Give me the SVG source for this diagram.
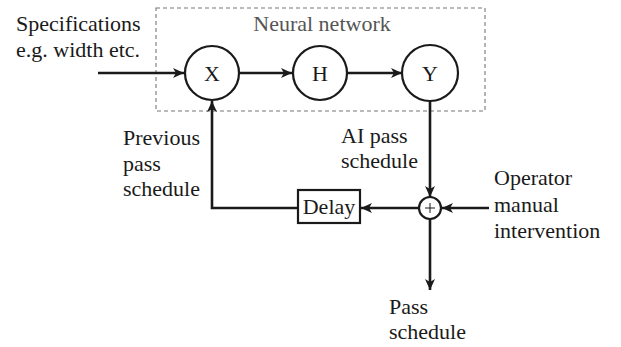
<svg xmlns="http://www.w3.org/2000/svg" width="621" height="347" viewBox="0 0 621 347">
<style>
text{font-family:"Liberation Serif","Times New Roman",serif;font-size:22px;fill:#1a1a1a}
.c{text-anchor:middle}
.n{fill:#fff;stroke:#1a1a1a;stroke-width:2.2}
.l{fill:none;stroke:#1a1a1a;stroke-width:2.6}
</style>
<defs>
<marker id="a" markerWidth="12" markerHeight="12" viewBox="0 0 12 12" refX="11" refY="6" orient="auto" markerUnits="userSpaceOnUse">
<path d="M0,1 L11,6 L0,11 L3,6 Z" fill="#1a1a1a"/>
</marker>
</defs>
<rect width="621" height="347" fill="#fff"/>
<g id="nn-box">
<rect x="156" y="8" width="329" height="103" fill="none" stroke="#777" stroke-width="1.1" stroke-dasharray="4,3"/>
<text x="322" y="31" class="c" style="fill:#555">Neural network</text>
</g>
<g id="connectors">
<line x1="98" y1="73" x2="184" y2="73" class="l" marker-end="url(#a)"/>
<line x1="239" y1="73" x2="292" y2="73" class="l" marker-end="url(#a)"/>
<line x1="347" y1="73" x2="402" y2="73" class="l" marker-end="url(#a)"/>
<line x1="430" y1="101" x2="430" y2="197" class="l" marker-end="url(#a)"/>
<line x1="419" y1="208" x2="361" y2="208" class="l" marker-end="url(#a)"/>
<polyline points="298,208 212,208 212,101" class="l" marker-end="url(#a)"/>
<line x1="489" y1="208" x2="442" y2="208" class="l" marker-end="url(#a)"/>
<line x1="430" y1="219" x2="430" y2="290" class="l" marker-end="url(#a)"/>
</g>
<g id="X"><circle cx="212" cy="73" r="27" class="n"/><text x="212" y="81" class="c">X</text></g>
<g id="H"><circle cx="320" cy="73" r="27" class="n"/><text x="320" y="81" class="c">H</text></g>
<g id="Y"><circle cx="430" cy="73" r="28" class="n"/><text x="430" y="81" class="c">Y</text></g>
<g id="sum"><circle cx="430" cy="208" r="11" class="n"/><line x1="425" y1="208" x2="435" y2="208" stroke="#1a1a1a" stroke-width="1"/><line x1="430" y1="203" x2="430" y2="213" stroke="#1a1a1a" stroke-width="1"/></g>
<g id="delay"><rect x="298" y="190" width="62" height="33" class="n"/><text x="329" y="214" class="c">Delay</text></g>
<g id="labels">
<text x="16" y="31">Specifications</text>
<text x="16" y="57">e.g. width etc.</text>
<text x="123" y="145">Previous</text>
<text x="123" y="171">pass</text>
<text x="123" y="196">schedule</text>
<text x="341" y="143">AI pass</text>
<text x="341" y="168">schedule</text>
<text x="494" y="185">Operator</text>
<text x="494" y="212">manual</text>
<text x="494" y="238">intervention</text>
<text x="389" y="314">Pass</text>
<text x="389" y="339">schedule</text>
</g>
</svg>
